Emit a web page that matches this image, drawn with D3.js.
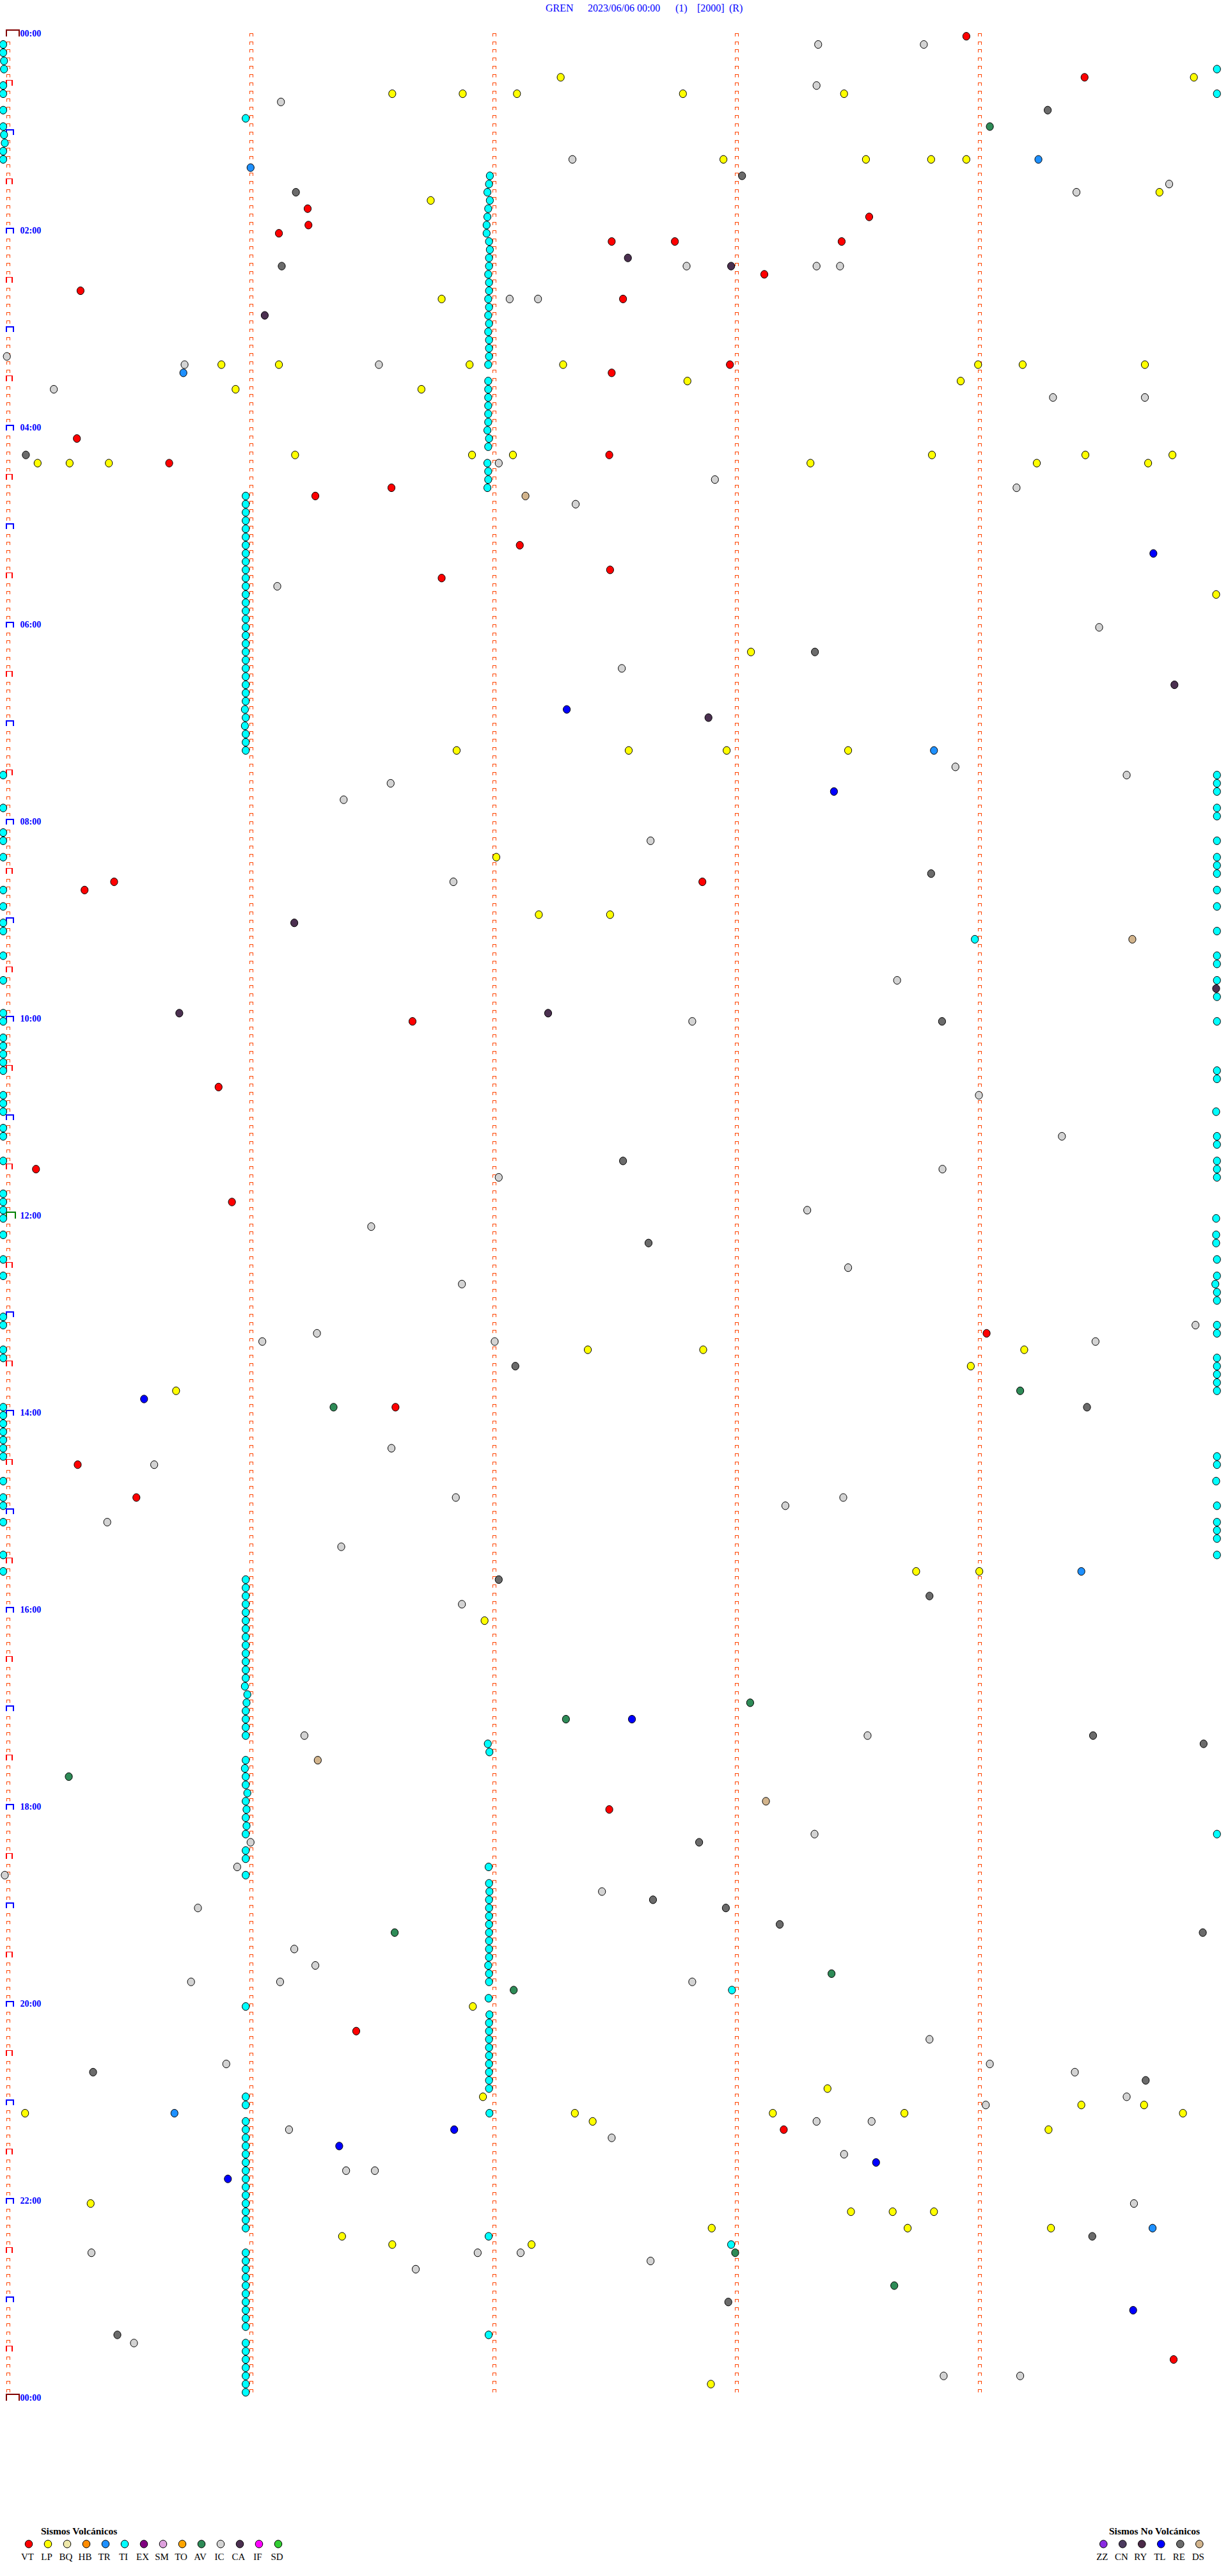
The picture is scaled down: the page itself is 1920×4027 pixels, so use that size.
<!DOCTYPE html>
<html><head><meta charset="utf-8">
<script src="https://cdn.jsdelivr.net/npm/d3@7"></script>
<style>html,body{margin:0;padding:0;background:#fff;}svg{display:block;}</style>
</head><body>
<script>
// Each event: [line, sec]  line = index of the 5-minute line (0 = 00:00 ... 287 = 23:55), sec = seconds into that line
const VT = [[0,237.9],[5,267.1],[21,75.2],[22,213.9],[23,75.4],[24,68.1],[25,150.3],[25,165.9],[25,207.1],[29,188],[31,19.1],[32,153.1],[40,179.5],[41,150.3],[49,18.2],[51,149.7],[52,41],[55,95.9],[56,77.1],[62,127.6],[65,149.9],[66,108.3],[103,27.4],[103,172.7],[104,20.1],[120,101.1],[128,53.2],[138,8.1],[142,56.5],[158,242.9],[167,96.9],[174,18.4],[178,32.9],[216,149.7],[243,87.2],[255,192.8],[283,289.1]];
const LP = [[5,137.7],[5,294.1],[7,96.1],[7,113.5],[7,126.9],[7,167.9],[7,207.7],[15,177.9],[15,213.1],[15,229.2],[15,237.9],[19,285.6],[20,105.6],[32,108.3],[40,53.9],[40,68.1],[40,115.2],[40,138.3],[40,240.8],[40,251.8],[40,282],[42,169],[42,236.5],[43,57.4],[43,103.3],[51,72.1],[51,115.8],[51,125.9],[51,229.4],[51,267.3],[51,288.8],[52,8.5],[52,16.4],[52,26.1],[52,199.4],[52,255.3],[52,282.8],[68,299.6],[75,184.7],[87,112],[87,154.5],[87,178.7],[87,208.7],[100,121.8],[107,132.3],[107,149.9],[160,144.4],[160,172.9],[160,252.2],[162,239],[165,42.7],[187,225.5],[187,241.1],[193,118.9],[240,116],[250,203.6],[251,118.5],[252,266.3],[252,281.8],[253,5.4],[253,141.2],[253,190.1],[253,222.6],[253,291.4],[254,145.6],[255,258.2],[264,21.6],[265,209.4],[265,219.7],[265,229.9],[267,175],[267,223.4],[267,258.8],[268,83.7],[269,96.1],[269,130.5],[286,174.8]];
const BQ = [];
const HB = [];
const TR = [[15,255.7],[16,61.1],[41,44.5],[87,229.9],[187,266.3],[253,42.3],[267,283.9]];
const TI = [[1,0],[2,0],[3,0.2],[4,0.2],[4,299.8],[6,0],[7,0],[7,299.8],[9,0],[10,59.9],[11,0],[12,0.2],[13,0.4],[14,0],[15,0],
[17,120.2],[18,120],[19,119.6],[20,120.2],[21,119.8],[22,119.6],[23,119.4],[24,119.4],[25,120],[26,120.2],[27,120],[28,120],[29,119.8],[30,120],[31,120],[32,119.8],[33,120],[34,119.8],[35,120],[36,119.8],[37,120],[38,120],[39,120],[40,119.8],
[42,119.8],[43,119.8],[44,119.8],[45,119.8],[46,119.8],[47,119.8],[48,119.6],[49,120],[50,119.8],[52,119.6],[53,119.8],[54,119.8],[55,119.6],
[56,59.9],[57,59.9],[58,59.9],[59,59.9],[60,59.9],[61,59.9],[62,59.9],[63,59.9],[64,59.9],[65,59.9],[66,59.9],[67,59.9],[68,59.9],[69,59.9],[70,59.9],[71,59.9],[72,59.9],[73,59.9],[74,59.9],[75,59.9],[76,59.9],[77,59.9],[78,59.9],[79,59.9],[80,59.9],[81,59.9],[82,59.7],[83,59.9],[84,59.7],[85,59.9],[86,59.9],[87,59.9],
[90,0],[90,299.8],[91,299.8],[92,299.8],[94,0],[94,299.8],[95,299.8],[97,0],[98,0],[98,299.8],[100,0],[100,299.8],[101,299.8],[102,299.8],[104,0],[104,299.8],[106,0],[106,299.8],[108,0],[109,0],[109,299.8],[110,240],
[112,0],[112,299.8],[113,299.8],[115,0],[115,299.8],[117,299.8],[119,0],[120,0],[120,299.8],[122,0],[123,0],[124,0],[125,0],[126,0],[126,299.8],[127,299.8],[129,0],[130,0],[131,0],[131,299.6],[133,0],[134,0],[134,299.8],[135,299.8],[137,0],[137,299.8],[138,299.8],[139,299.8],[141,0],[142,0],
[143,0],[144,0],[144,299.6],[146,0],[146,299.6],[147,299.6],[149,0],[149,299.8],[151,0],[151,299.8],[152,299.4],[153,299.8],[154,299.8],[156,0],[157,0],[157,299.8],[158,299.8],[160,0],[161,0],[161,299.8],[162,299.8],[163,299.8],[164,299.8],[165,299.8],
[167,0],[168,0],[169,0],[170,0],[171,0],[172,0],[173,0],[173,299.8],[174,299.8],[176,0],[176,299.6],[178,0],[179,0],[179,299.8],[181,0],[181,299.8],[182,299.8],[183,299.8],[185,0],[185,299.8],[187,0],
[188,59.9],[189,59.9],[190,59.9],[191,59.9],[192,59.9],[193,59.9],[194,59.9],[195,59.9],[196,59.9],[197,59.9],[198,59.9],[199,59.9],[200,59.9],[201,59.7],[202,60.3],[203,60.1],[204,59.9],[205,59.9],[206,59.9],[207,59.9],
[208,119.7],[209,120.1],[210,59.9],[211,59.7],[212,59.9],[213,59.9],[214,60.3],[215,59.9],[216,60.1],[217,59.9],[218,60.1],[219,59.9],[219,299.8],[221,59.9],[222,59.9],[223,119.9],[224,59.9],
[225,120],[226,120.1],[227,120],[228,120],[229,120],[230,120],[231,120],[232,120],[233,120],[234,120],[235,119.8],[236,120],[237,120],[238,180],[239,119.9],[240,59.9],
[241,120.1],[242,120],[243,120],[244,120],[245,120],[246,120],[247,120],[248,120],[249,120],[250,120],[251,59.9],[252,59.9],[253,120.1],
[254,59.9],[255,59.9],[256,59.9],[257,59.9],[258,59.9],[259,59.9],[260,59.9],[261,59.9],[262,59.9],[263,59.9],[264,59.9],[265,59.9],[266,59.9],[267,59.9],[268,119.9],[269,179.8],
[270,59.9],[271,59.9],[272,59.9],[273,59.9],[274,59.9],[275,59.9],[276,59.9],[277,59.9],[278,59.9],[279,59.9],[280,119.9],
[281,59.9],[282,59.9],[283,59.9],[284,59.9],[285,59.9],[286,59.9],[287,59.9]];
const EX = [];
const SM = [];
const TO = [];
const AV = [[11,243.7],[165,251.2],[167,81.6],[203,184.5],[205,139],[212,16.2],[231,96.7],[236,204.6],[238,126.1],[270,180.8],[274,220.1]];
const IC = [[1,201.3],[1,227.4],[6,200.9],[8,68.6],[15,140.6],[18,288],[19,265.1],[28,168.8],[28,200.9],[28,206.7],[32,125.1],[32,132.1],[39,0.9],[40,44.8],[40,92.8],[43,12.5],[44,259.3],[44,282],[52,122.4],[54,175.8],[55,250.3],[57,141.4],[67,67.7],[72,270.7],[77,152.8],[89,235.2],[90,277.5],[91,95.7],[93,84.1],[98,159.9],[103,111.2],[115,220.8],[120,170.2],[129,241],[134,261.5],[138,232],[139,122.4],[143,198.6],[145,90.9],[150,208.7],[152,113.3],[157,294.5],[158,77.5],[159,64],[159,121.4],[159,269.8],[172,95.9],[174,37.3],[178,111.8],[178,207.5],[179,193.2],[181,25.7],[184,83.5],[191,113.3],[207,74.4],[207,213.5],[219,200.4],[220,61.1],[223,57.8],[224,0.4],[226,147.9],[228,48.1],[233,71.9],[235,77.1],[237,46.4],[237,68.4],[237,170.2],[244,228.8],[247,55.1],[247,243.7],[248,264.7],[251,277.5],[252,242.7],[254,200.9],[254,214.5],[255,70.6],[256,150.3],[258,207.7],[260,84.7],[260,91.8],[264,279.3],[270,21.8],[270,117.2],[270,127.8],[271,159.9],[272,101.9],[281,32.3],[285,232.3],[285,251.2]];
const CA = [[27,154.3],[28,179.8],[34,64.6],[79,289.3],[83,174.2],[108,71.9],[116,299.6],[119,43.5],[119,134.6]];
const IF = [];
const SD = [];
const ZZ = [];
const CN = [];
const RY = [];
const TL = [[63,284.1],[82,139.2],[92,205.2],[166,34.8],[205,155.3],[255,111.4],[257,83],[259,215.6],[261,55.5],[277,279.1]];
const RE = [[9,258],[17,182.5],[19,72.3],[28,68.8],[51,5.6],[75,200.5],[102,229.2],[120,231.9],[137,153.1],[147,159.4],[162,126.5],[167,267.7],[188,122.4],[190,228.8],[207,269.2],[208,296.5],[220,171.9],[227,160.5],[228,178.5],[230,191.8],[231,296.3],[248,22.2],[249,282.2],[268,269],[276,179.1],[280,28.2]];
const DS = [[56,129],[110,278.9],[210,77.7],[215,188.4]];

const volcanicTypes = ["VT","LP","BQ","HB","TR","TI","EX","SM","TO","AV","IC","CA","IF","SD"];
const nonVolcanicTypes = ["ZZ","CN","RY","TL","RE","DS"];
const typeColors = {VT:"#ff0000",LP:"#ffff00",BQ:"#eee8aa",HB:"#ff8c00",TR:"#1e90ff",TI:"#00ffff",EX:"#800080",SM:"#dda0dd",TO:"#ffa500",AV:"#2e8b57",IC:"#d3d3d3",CA:"#4b3050",IF:"#ff00ff",SD:"#32cd32",ZZ:"#8a2be2",CN:"#4b3a5e",RY:"#4b2a48",TL:"#0000ff",RE:"#6b6b6b",DS:"#d2b48c"};
const hourLabels = ["00:00","02:00","04:00","06:00","08:00","10:00","12:00","14:00","16:00","18:00","20:00","22:00","00:00"];
const titleParts = ["GREN","2023/06/06 00:00","(1)","[2000]","(R)"];
const legendTitles = ["Sismos Volcánicos","Sismos No Volcánicos"];

const events = {VT,LP,BQ,HB,TR,TI,EX,SM,TO,AV,IC,CA,IF,SD,ZZ,CN,RY,TL,RE,DS};

const W = 1920, H = 4027;
const LINES = 288, LINE_SEC = 300;
const FONT = "'Liberation Serif','Times New Roman',serif";

const svg = d3.select("body").append("svg").attr("width", W).attr("height", H)
  .style("background", "#fff");

const x = d3.scaleLinear().domain([0, LINE_SEC]).range([5, 1904]);
const y = d3.scaleLinear().domain([0, LINES]).range([56.7, 3752.7]);

// Title
const titleX = [853, 919, 1056, 1090, 1140];
svg.append("g").selectAll("text").data(titleParts).join("text")
  .attr("x", (d, i) => titleX[i]).attr("y", 18)
  .attr("font-family", FONT).attr("font-size", 16).attr("fill", "#0000ff")
  .text(d => d);

// Minute markers on every line
const markerG = svg.append("g").attr("shape-rendering", "crispEdges").attr("fill", "none");
const minuteTicks = d3.range(0, LINE_SEC, 60);
const lineIdx = d3.range(0, LINES);
const small = [];
lineIdx.forEach(l => minuteTicks.forEach(m => {
  if (m === 0 && l % 6 === 0) return;
  small.push([l, m]);
}));
markerG.append("path")
  .attr("stroke", "#ff4500").attr("stroke-width", 1)
  .attr("d", small.map(([l, m]) => {
    const cx = Math.round(x(m) + 8), cy = Math.round(y(l));
    return `M${cx - 2.5},${cy}V${cy - 4.5}H${cx + 2.5}V${cy}`;
  }).join(""));

// Left-column special markers
const specials = d3.range(0, LINES + 1, 6);
specials.forEach(l => {
  const cy = Math.round(y(l));
  let col, w, h, sw;
  if (l === 0 || l === LINES) { col = "#800000"; w = 20; h = 10; sw = 2; }
  else if (l === 144) { col = "#008000"; w = 14; h = 10; sw = 2; }
  else if (l % 12 === 0) { col = "#0000ff"; w = 10.5; h = 8.5; sw = 2; }
  else { col = "#ff0000"; w = 9; h = 8.5; sw = 1.2; }
  markerG.append("path").attr("stroke", col).attr("stroke-width", sw)
    .attr("d", `M10,${cy}V${cy - h}H${10 + w}V${cy}`);
});

// Hour labels
svg.append("g").selectAll("text").data(hourLabels).join("text")
  .attr("x", 31.5).attr("y", (d, i) => y(i * 24) + 0.3)
  .attr("font-family", FONT).attr("font-size", 14).attr("font-weight", "bold")
  .attr("fill", "#0000ff").text(d => d);

// Events
const all = [];
Object.keys(events).forEach(t => events[t].forEach(([l, s]) => all.push({t, l, s})));
all.sort((a, b) => a.l - b.l || a.s - b.s);
svg.append("g").selectAll("ellipse").data(all).join("ellipse")
  .attr("cx", d => x(d.s)).attr("cy", d => y(d.l))
  .attr("rx", 5.6).attr("ry", 6.1)
  .attr("fill", d => typeColors[d.t]).attr("stroke", "#000").attr("stroke-width", 1);

// Legends
const legY = 3977;
function legend(types, x0, title, titleX) {
  const g = svg.append("g");
  g.append("text").attr("x", titleX).attr("y", 3961.5)
    .attr("font-family", FONT).attr("font-size", 15.5).attr("font-weight", "bold")
    .attr("fill", "#000").text(title);
  const it = g.selectAll("g.it").data(types).join("g").attr("class", "it")
    .attr("transform", (d, i) => `translate(${x0 + i * 30},0)`);
  it.append("ellipse").attr("cx", 0).attr("cy", legY).attr("rx", 5.8).attr("ry", 6)
    .attr("fill", d => typeColors[d]).attr("stroke", "#000").attr("stroke-width", 1);
  it.append("text").attr("x", -2).attr("y", 4002).attr("text-anchor", "middle")
    .attr("font-family", FONT).attr("font-size", 15).attr("fill", "#000").text(d => d);
}
legend(volcanicTypes, 45, legendTitles[0], 64);
legend(nonVolcanicTypes, 1725.3, legendTitles[1], 1734);
</script>
</body></html>
